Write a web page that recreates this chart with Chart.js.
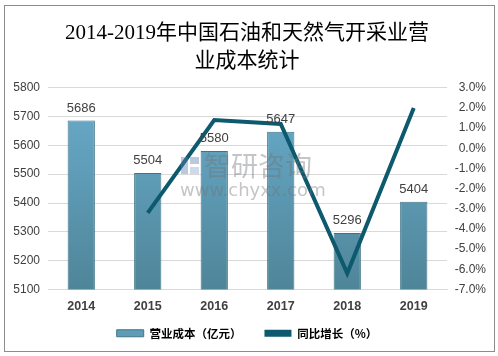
<!DOCTYPE html>
<html>
<head>
<meta charset="utf-8">
<script src="https://cdn.jsdelivr.net/npm/chart.js@4/dist/chart.umd.min.js"></script>
<style>
html,body{margin:0;padding:0;background:#fff;}
#wrap{position:absolute;left:0;top:0;width:498px;height:356px;}
</style>
</head>
<body>
<div id="wrap"><canvas id="c" width="498" height="356"></canvas></div>
<script>
const categories = ['2014','2015','2016','2017','2018','2019'];
const costValues = [5686, 5504, 5580, 5647, 5296, 5404];
const growthValues = [null, -3.2, 1.4, 1.2, -6.2, 2.0];
const titleLines = ['2014-2019年中国石油和天然气开采业营', '业成本统计'];
const seriesNames = ['营业成本（亿元）', '同比增长（%）'];

const LINE_COLOR = '#0d5a6f';
const NUM_FONT = "'Liberation Sans', 'Noto Sans CJK SC', sans-serif";

function barGradient(ctx) {
  const chart = ctx.chart;
  const area = chart.chartArea;
  if (!area) return '#5e9fbf';
  const g = chart.ctx.createLinearGradient(0, area.top, 0, area.bottom);
  g.addColorStop(0, '#6aadcd');
  g.addColorStop(1, '#4f8599');
  return g;
}

const framePlugin = {
  id: 'frame',
  beforeDraw(chart) {
    // let the category labels extend below the (shortened) x-axis box
    if (chart.scales.x) chart.scales.x._computeLabelArea = () => undefined;
    const c = chart.ctx;
    c.save();
    c.fillStyle = '#fff';
    c.fillRect(0, 0, chart.width, chart.height);
    c.strokeStyle = '#8c8c8c';
    c.lineWidth = 1;
    c.strokeRect(4.5, 5.5, 490, 346);
    c.restore();
  },
  afterDatasetsDraw(chart) {
    const c = chart.ctx;
    const meta = chart.getDatasetMeta(0);
    c.save();
    c.font = "13px " + NUM_FONT;
    c.fillStyle = '#404040';
    c.textAlign = 'center';
    c.textBaseline = 'bottom';
    meta.data.forEach((el, i) => {
      c.fillText(String(costValues[i]), el.x, el.y - 6);
    });
    // watermark
    c.globalAlpha = 0.42;
    c.fillStyle = '#707478';
    c.font = "27px 'Noto Sans CJK SC', sans-serif";
    c.textAlign = 'left';
    c.textBaseline = 'middle';
    c.fillText('智研咨询', 204, 166);
    c.font = "18px 'DejaVu Sans', sans-serif";
    c.fillText('www.chyxx.com', 180, 191);
    c.fillStyle = '#5b7fae';
    c.fillRect(181, 157, 7, 17);
    c.fillRect(190, 157, 9, 7);
    c.fillStyle = '#8aa7cf';
    c.fillRect(190, 167, 9, 7);
    c.restore();
  }
};

new Chart(document.getElementById('c'), {
  data: {
    labels: categories,
    datasets: [
      {
        type: 'bar',
        label: seriesNames[0],
        data: costValues,
        yAxisID: 'y',
        backgroundColor: barGradient,
        borderColor: '#3f7488',
        borderWidth: 1,
        barPercentage: 0.41,
        categoryPercentage: 1,
        order: 2
      },
      {
        type: 'line',
        label: seriesNames[1],
        data: growthValues,
        yAxisID: 'y1',
        borderColor: LINE_COLOR,
        backgroundColor: LINE_COLOR,
        borderWidth: 4,
        pointRadius: 0,
        tension: 0,
        order: 1
      }
    ]
  },
  options: {
    responsive: false,
    animation: false,
    devicePixelRatio: 1,
    layout: { padding: { left: 8, right: 12, top: 4, bottom: 7 } },
    plugins: {
      title: {
        display: true,
        text: titleLines,
        color: '#000',
        font: { family: "'Liberation Serif', 'Noto Sans CJK SC', serif", size: 21, weight: 'normal', lineHeight: 1.35 },
        padding: { top: 15, bottom: 12 }
      },
      legend: {
        display: true,
        position: 'bottom',
        labels: {
          boxWidth: 27,
          boxHeight: 7,
          padding: 23,
          color: '#404040',
          font: { family: "'Noto Sans CJK SC', sans-serif", size: 11.5, weight: 'bold' },
          generateLabels(chart) {
            return [
              { text: seriesNames[0], fillStyle: '#5e9cb8', strokeStyle: '#3f7488', lineWidth: 1, datasetIndex: 0 },
              { text: seriesNames[1], fillStyle: LINE_COLOR, strokeStyle: LINE_COLOR, lineWidth: 0, datasetIndex: 1 }
            ];
          }
        }
      },
      tooltip: { enabled: false }
    },
    scales: {
      x: {
        afterFit(s) { s.height = 15; },
        grid: { display: false, drawTicks: false },
        border: { display: true, color: '#d9d9d9' },
        ticks: { color: '#404040', padding: 10, font: { family: NUM_FONT, size: 12.5, weight: 'bold' } }
      },
      y: {
        position: 'left',
        min: 5100, max: 5800,
        afterFit(s) { s.width = 40; },
        ticks: { stepSize: 100, color: '#404040', padding: 8, font: { family: NUM_FONT, size: 12 }, callback: v => String(v) },
        grid: { color: '#d9d9d9', drawTicks: false },
        border: { display: false }
      },
      y1: {
        position: 'right',
        min: -7, max: 3,
        afterFit(s) { s.width = 39; },
        ticks: {
          stepSize: 1, color: '#404040', padding: 8, crossAlign: 'far',
          font: { family: NUM_FONT, size: 12 },
          callback: v => v.toFixed(1) + '%'
        },
        grid: { display: false, drawTicks: false },
        border: { display: false }
      }
    }
  },
  plugins: [framePlugin]
});
</script>
</body>
</html>
